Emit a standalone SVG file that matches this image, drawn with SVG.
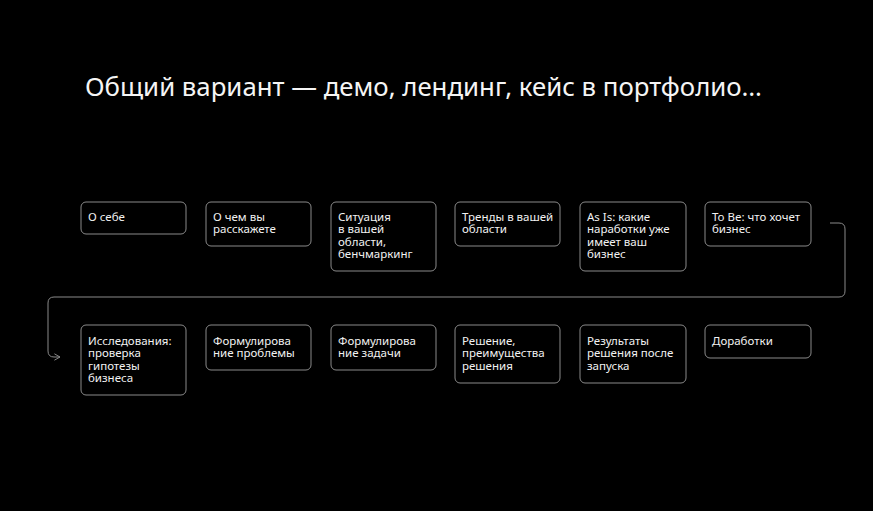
<svg xmlns="http://www.w3.org/2000/svg" width="873" height="511" viewBox="0 0 873 511">
<defs>
<style>
.box{fill:#000;stroke:#8a8a8a;stroke-width:1}
.t{font-family:"Noto Sans","DejaVu Sans",sans-serif;font-size:11.5px;fill:#f2f2f2}
.title{font-family:"Noto Sans","DejaVu Sans",sans-serif;font-size:26px;fill:#f5f5f5}
.conn{fill:none;stroke:#8a8a8a;stroke-width:1}
</style>
<marker id="arr" viewBox="0 0 10 10" refX="9" refY="5" markerWidth="8" markerHeight="8" orient="auto" markerUnits="userSpaceOnUse">
<path d="M2,1 L9,5 L2,9" fill="none" stroke="#8a8a8a" stroke-width="1.2"/>
</marker>
</defs>
<rect width="873" height="511" fill="#000"/>
<text class="title" x="85" y="96" textLength="677" lengthAdjust="spacingAndGlyphs">Общий вариант — демо, лендинг, кейс в портфолио…</text>
<g id="connectors">
<path class="conn" d="M830,223 H839 Q845,223 845,229 V291 Q845,297 839,297 H54 Q48,297 48,303 V351 Q48,357 54,357 H60" marker-end="url(#arr)"/>
</g>
<g id="n1"><rect class="box" x="81" y="202" width="105" height="32" rx="5"/><text class="t" x="88" y="221">О себе</text></g>
<g id="n2"><rect class="box" x="206" y="202" width="105" height="44" rx="5"/><text class="t" x="213" y="221"><tspan x="213">О чем вы</tspan><tspan x="213" dy="12.3">расскажете</tspan></text></g>
<g id="n3"><rect class="box" x="331" y="202" width="105" height="69" rx="5"/><text class="t" x="338" y="221"><tspan x="338">Ситуация</tspan><tspan x="338" dy="12.3">в вашей</tspan><tspan x="338" dy="12.3">области,</tspan><tspan x="338" dy="12.3">бенчмаркинг</tspan></text></g>
<g id="n4"><rect class="box" x="455" y="202" width="105" height="44" rx="5"/><text class="t" x="462" y="221"><tspan x="462">Тренды в вашей</tspan><tspan x="462" dy="12.3">области</tspan></text></g>
<g id="n5"><rect class="box" x="580" y="202" width="106" height="69" rx="5"/><text class="t" x="587" y="221"><tspan x="587">As Is: какие</tspan><tspan x="587" dy="12.3">наработки уже</tspan><tspan x="587" dy="12.3">имеет ваш</tspan><tspan x="587" dy="12.3">бизнес</tspan></text></g>
<g id="n6"><rect class="box" x="705" y="202" width="106" height="44" rx="5"/><text class="t" x="712" y="221"><tspan x="712">To Be: что хочет</tspan><tspan x="712" dy="12.3">бизнес</tspan></text></g>
<g id="n7"><rect class="box" x="81" y="325" width="105" height="70" rx="5"/><text class="t" x="88" y="345"><tspan x="88">Исследования:</tspan><tspan x="88" dy="12.3">проверка</tspan><tspan x="88" dy="12.3">гипотезы</tspan><tspan x="88" dy="12.3">бизнеса</tspan></text></g>
<g id="n8"><rect class="box" x="206" y="325" width="105" height="45" rx="5"/><text class="t" x="213" y="345"><tspan x="213">Формулирова</tspan><tspan x="213" dy="12.3">ние проблемы</tspan></text></g>
<g id="n9"><rect class="box" x="331" y="325" width="105" height="45" rx="5"/><text class="t" x="338" y="345"><tspan x="338">Формулирова</tspan><tspan x="338" dy="12.3">ние задачи</tspan></text></g>
<g id="n10"><rect class="box" x="455" y="325" width="105" height="58" rx="5"/><text class="t" x="462" y="345"><tspan x="462">Решение,</tspan><tspan x="462" dy="12.3">преимущества</tspan><tspan x="462" dy="12.3">решения</tspan></text></g>
<g id="n11"><rect class="box" x="580" y="325" width="106" height="58" rx="5"/><text class="t" x="587" y="345"><tspan x="587">Результаты</tspan><tspan x="587" dy="12.3">решения после</tspan><tspan x="587" dy="12.3">запуска</tspan></text></g>
<g id="n12"><rect class="box" x="705" y="325" width="106" height="33" rx="5"/><text class="t" x="712" y="345">Доработки</text></g>
</svg>
